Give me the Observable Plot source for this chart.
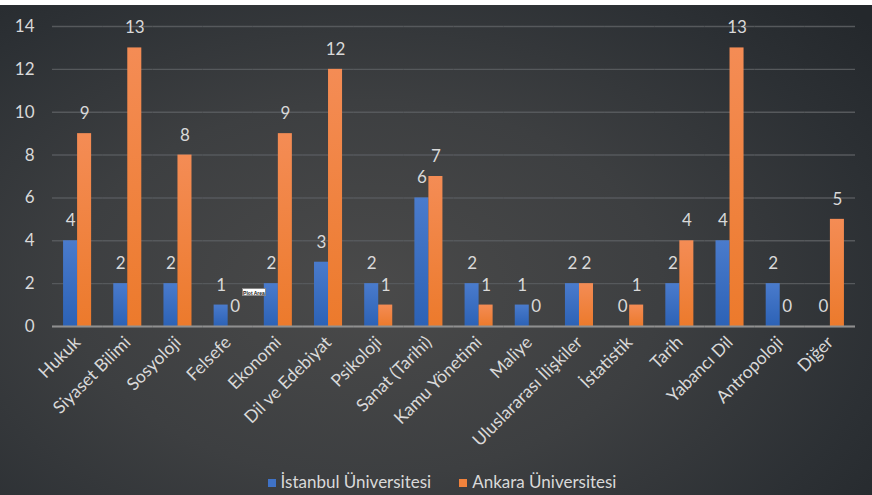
<!DOCTYPE html>
<html><head><meta charset="utf-8">
<script src="https://cdn.jsdelivr.net/npm/d3@7"></script>
<script src="https://cdn.jsdelivr.net/npm/@observablehq/plot@0.6"></script>
<style>
html,body{margin:0;padding:0;background:#fff;width:872px;height:495px;overflow:hidden;}
#wrap{position:absolute;left:0;top:5px;width:872px;height:490px;
  background:radial-gradient(ellipse 75% 85% at 42% 58%, #4a4a4a 0%, #3d3f41 45%, #2c3034 80%, #24282c 100%);
  font-family:Lato, "Open Sans", sans-serif;color:#d9d9d9;}
#chart{position:absolute;left:0;top:0;}
#legend{position:absolute;left:0;top:466px;width:872px;display:flex;justify-content:center;gap:28px;font-size:17px;color:#d9d9d9;padding-left:12px;box-sizing:border-box;}
#legend span.sw{display:inline-block;width:8px;height:8px;margin-right:5px;vertical-align:middle;position:relative;top:-1px;}
#tip{position:absolute;left:242px;top:283px;width:24px;height:8px;background:#fff;border:1px solid #888;font:bold 5px Arial, sans-serif;color:#222;line-height:8px;text-align:center;box-sizing:border-box;}
</style></head>
<body>
<div id="wrap"><div id="chart"></div><div id="legend"></div><div id="tip">Plot Area</div></div>
<script>
const categories = ["Hukuk","Siyaset Bilimi","Sosyoloji","Felsefe","Ekonomi","Dil ve Edebiyat","Psikoloji","Sanat (Tarihi)","Kamu Yönetimi","Maliye","Uluslararası İlişkiler","İstatistik","Tarih","Yabancı Dil","Antropoloji","Diğer"];
const series = ["İstanbul Üniversitesi","Ankara Üniversitesi"];
const istanbul = [4,2,2,1,2,3,2,6,2,1,2,0,2,4,2,0];
const ankara = [9,13,8,0,9,12,1,7,1,0,2,1,4,13,0,5];
const yTicks = [0,2,4,6,8,10,12,14];
const seriesColors = ["#3f72c6","#f0823c"];

const rows = categories.flatMap((c,i)=>[
  {category:c, series:series[0], value:istanbul[i]},
  {category:c, series:series[1], value:ankara[i]}
]);

const chart = Plot.plot({
  width: 872, height: 465,
  marginLeft: 52, marginRight: 17, marginTop: 21, marginBottom: 144,
  style: {background:"transparent", color:"#d9d9d9", fontFamily:"Lato, 'Open Sans', sans-serif", overflow:"visible"},
  fx: {domain: categories, padding: 0, round: false, label: null},
  x: {domain: series, paddingInner: 0, paddingOuter: 0.79, round: false, axis: null},
  y: {domain: [0,14], label: null},
  marks: [
    Plot.gridY(yTicks, {stroke:"#56595c", strokeOpacity:1, strokeWidth:1.4}),
    Plot.axisY(yTicks, {tickSize:0, tickPadding:18, fontSize:17, label:null, fill:"#d9d9d9"}),
    Plot.axisFx({anchor:"bottom", tickRotate:-45, tickSize:0, tickPadding:13, fontSize:17.5, label:null, fill:"#d9d9d9"}),
    Plot.barY(rows.filter(d=>d.series===series[0]), {fx:"category", x:"series", y:"value", fill:"url(#gBlue)", inset:0}),
    Plot.barY(rows.filter(d=>d.series===series[1]), {fx:"category", x:"series", y:"value", fill:"url(#gOrange)", inset:0}),
    Plot.ruleY([0], {stroke:"#8f8f8f", strokeWidth:2.2}),
    Plot.text(rows, {fx:"category", x:"series", y:"value", text:d=>String(d.value), dy:-20, fontSize:17, fill:"#d9d9d9"})
  ]
});
chart.insertAdjacentHTML("afterbegin", `<defs>
<linearGradient id="gBlue" x1="0" y1="0" x2="0" y2="1"><stop offset="0" stop-color="#4a7bcc"/><stop offset="1" stop-color="#2c62b6"/></linearGradient>
<linearGradient id="gOrange" x1="0" y1="0" x2="0" y2="1"><stop offset="0" stop-color="#f48c55"/><stop offset="1" stop-color="#ec7a2c"/></linearGradient>
</defs>`);
document.getElementById("chart").appendChild(chart);

const lg = document.getElementById("legend");
series.forEach((s,i)=>{
  const d = document.createElement("div");
  d.innerHTML = `<span class="sw" style="background:${seriesColors[i]}"></span>${s}`;
  lg.appendChild(d);
});
</script>
</body></html>
